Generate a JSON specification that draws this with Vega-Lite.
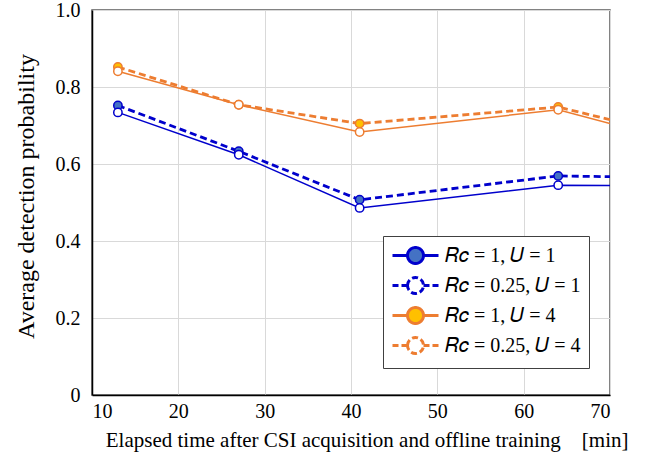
{
  "$schema": "https://vega.github.io/schema/vega-lite/v6.json",
  "width": 518,
  "height": 385,
  "autosize": "none",
  "padding": {"left": 92, "top": 10, "right": 42, "bottom": 70},
  "background": "white",
  "config": {
    "font": "Liberation Serif",
    "view": {"stroke": "#595959", "strokeWidth": 1.5},
    "axis": {
      "grid": true,
      "gridColor": "#d9d9d9",
      "gridWidth": 1,
      "ticks": false,
      "domainColor": "#000000",
      "domainWidth": 1.5,
      "labelFontSize": 20,
      "labelColor": "#000000",
      "titleFontWeight": "normal",
      "titleColor": "#000000"
    },
    "legend": {
      "orient": "none",
      "legendX": 291,
      "legendY": 226,
      "strokeColor": "#404040",
      "fillColor": "white",
      "padding": 8,
      "labelFont": "Liberation Serif",
      "labelFontSize": 20,
      "labelColor": "#000000",
      "labelOffset": 31,
      "rowPadding": 1
    }
  },
  "data": {
    "values": [
      {"t": 13, "p": 0.752, "series": "𝑅𝑐 = 1, 𝑈 = 1"},
      {"t": 27, "p": 0.633, "series": "𝑅𝑐 = 1, 𝑈 = 1"},
      {"t": 41, "p": 0.507, "series": "𝑅𝑐 = 1, 𝑈 = 1"},
      {"t": 64, "p": 0.569, "series": "𝑅𝑐 = 1, 𝑈 = 1"},
      {"t": 70, "p": 0.567, "series": "𝑅𝑐 = 1, 𝑈 = 1"},
      {"t": 13, "p": 0.734, "series": "𝑅𝑐 = 0.25, 𝑈 = 1"},
      {"t": 27, "p": 0.624, "series": "𝑅𝑐 = 0.25, 𝑈 = 1"},
      {"t": 41, "p": 0.486, "series": "𝑅𝑐 = 0.25, 𝑈 = 1"},
      {"t": 64, "p": 0.545, "series": "𝑅𝑐 = 0.25, 𝑈 = 1"},
      {"t": 70, "p": 0.544, "series": "𝑅𝑐 = 0.25, 𝑈 = 1"},
      {"t": 13, "p": 0.852, "series": "𝑅𝑐 = 1, 𝑈 = 4"},
      {"t": 27, "p": 0.754, "series": "𝑅𝑐 = 1, 𝑈 = 4"},
      {"t": 41, "p": 0.705, "series": "𝑅𝑐 = 1, 𝑈 = 4"},
      {"t": 64, "p": 0.748, "series": "𝑅𝑐 = 1, 𝑈 = 4"},
      {"t": 70, "p": 0.715, "series": "𝑅𝑐 = 1, 𝑈 = 4"},
      {"t": 13, "p": 0.841, "series": "𝑅𝑐 = 0.25, 𝑈 = 4"},
      {"t": 27, "p": 0.754, "series": "𝑅𝑐 = 0.25, 𝑈 = 4"},
      {"t": 41, "p": 0.683, "series": "𝑅𝑐 = 0.25, 𝑈 = 4"},
      {"t": 64, "p": 0.741, "series": "𝑅𝑐 = 0.25, 𝑈 = 4"},
      {"t": 70, "p": 0.705, "series": "𝑅𝑐 = 0.25, 𝑈 = 4"}
    ]
  },
  "encoding": {
    "x": {
      "field": "t",
      "type": "quantitative",
      "scale": {"domain": [10, 70], "nice": false},
      "axis": {
        "values": [10, 20, 30, 40, 50, 60, 70],
        "labelFont": "Liberation Serif",
        "labelFontSize": 20,
        "labelPadding": 6,
        "title": "Elapsed time after CSI acquisition and offline training\u00a0\u00a0\u00a0\u00a0[min]",
        "titleFont": "Liberation Serif",
        "titleFontSize": 21,
        "titleX": 536,
        "titleY": 45,
        "titleAlign": "right",
        "titleBaseline": "middle",
        "titleAnchor": null
      }
    },
    "y": {
      "field": "p",
      "type": "quantitative",
      "scale": {"domain": [0, 1], "nice": false},
      "axis": {
        "values": [0, 0.2, 0.4, 0.6, 0.8, 1.0],
        "labelExpr": "datum.value == 0 ? '0' : format(datum.value, '.1f')",
        "labelFont": "Liberation Serif",
        "labelFontSize": 20,
        "labelPadding": 12,
        "title": "Average detection probability",
        "titleFont": "Liberation Serif",
        "titleFontSize": 24,
        "titleX": -66,
        "titleY": 186,
        "titleAlign": "center",
        "titleBaseline": "middle",
        "titleAnchor": null,
        "titleAngle": -90
      }
    }
  },
  "layer": [
    {
      "transform": [{"filter": "indexof(datum.series, '0.25') < 0"}],
      "mark": {"type": "line", "strokeWidth": 2.8, "strokeDash": [7, 4], "clip": true},
      "encoding": {
        "stroke": {
          "field": "series",
          "type": "nominal",
          "scale": {
            "domain": ["𝑅𝑐 = 1, 𝑈 = 1", "𝑅𝑐 = 0.25, 𝑈 = 1", "𝑅𝑐 = 1, 𝑈 = 4", "𝑅𝑐 = 0.25, 𝑈 = 4"],
            "range": ["#0000CC", "#0000CC", "#ED7D31", "#ED7D31"]
          },
          "legend": {
            "title": null,
            "symbolType": "M-1,0L0.5,0M2.1,0L3.6,0M0.5,0A0.8,0.8,0,1,1,2.1,0A0.8,0.8,0,1,1,0.5,0Z",
            "symbolSize": 400,
            "symbolStrokeWidth": 3,
            "encode": {
              "symbols": {
                "update": {
                  "stroke": {"signal": "indexof(datum.value, '𝑈 = 1') >= 0 ? '#4472C4' : '#ED7D31'"},
                  "fill": {"signal": "indexof(datum.value, '0.25') >= 0 ? '#ffffff' : (indexof(datum.value, '𝑈 = 1') >= 0 ? '#4472C4' : '#ED7D31')"},
                  "strokeDash": {"signal": "indexof(datum.value, '0.25') >= 0 ? [6, 3] : [1, 0]"},
                  "strokeWidth": {"value": 3},
                  "opacity": {"value": 1}
                }
              }
            }
          }
        }
      }
    },
    {
      "transform": [{"filter": "indexof(datum.series, '0.25') >= 0"}],
      "mark": {"type": "line", "strokeWidth": 1.5, "clip": true},
      "encoding": {
        "stroke": {"field": "series", "type": "nominal"}
      }
    },
    {
      "transform": [{"filter": "datum.t < 70"}],
      "mark": {"type": "point", "shape": "circle", "size": 70, "strokeWidth": 1.5, "opacity": 1},
      "encoding": {
        "stroke": {"field": "series", "type": "nominal"},
        "fill": {
          "field": "series",
          "type": "nominal",
          "scale": {
            "domain": ["𝑅𝑐 = 1, 𝑈 = 1", "𝑅𝑐 = 0.25, 𝑈 = 1", "𝑅𝑐 = 1, 𝑈 = 4", "𝑅𝑐 = 0.25, 𝑈 = 4"],
            "range": ["#4472C4", "#ffffff", "#FFC000", "#ffffff"]
          },
          "legend": null
        }
      }
    }
  ]
}
